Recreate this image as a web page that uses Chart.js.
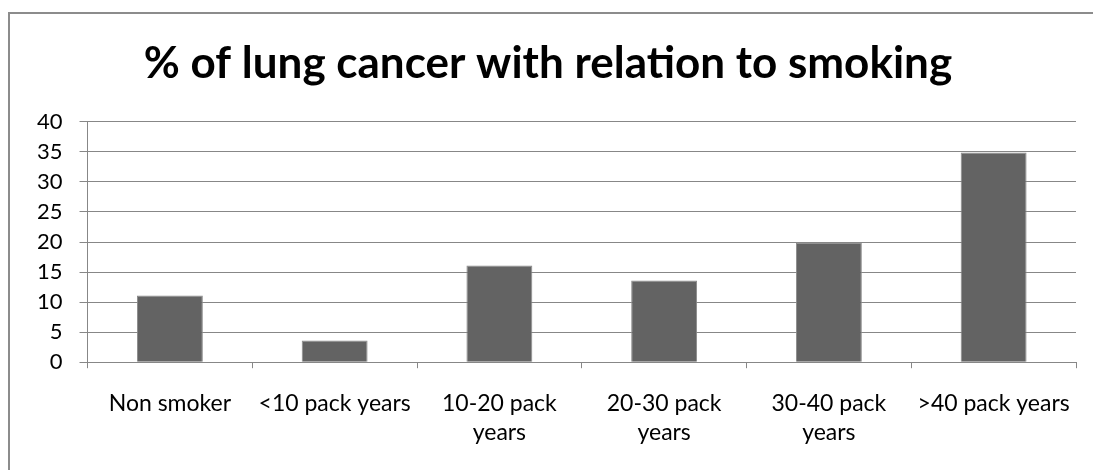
<!DOCTYPE html>
<html>
<head>
<meta charset="utf-8">
<script src="https://cdn.jsdelivr.net/npm/chart.js@4/dist/chart.umd.min.js"></script>
<style>
  html, body { margin: 0; padding: 0; background: #fff; overflow: hidden; }
  #wrap { position: relative; width: 1093px; height: 470px; }
  #frame { position: absolute; left: 8px; top: 12px; width: 1100px; height: 470px;
           border-left: 2px solid #8c8c8c; border-top: 2px solid #8c8c8c; }
  canvas { position: absolute; left: 0; top: 0; }
</style>
</head>
<body>
<div id="wrap">
  <div id="frame"></div>
  <canvas id="lungChart" width="1093" height="470"></canvas>
</div>
<script>
const categories = ['Non smoker', '<10 pack years', ['10-20 pack', 'years'], ['20-30 pack', 'years'], ['30-40 pack', 'years'], '>40 pack years'];
const lungCancerPct = [11.1, 3.6, 16.1, 13.6, 19.9, 34.9];
const yTicks = [0, 5, 10, 15, 20, 25, 30, 35, 40];

const ctx = document.getElementById('lungChart').getContext('2d');
const chart = new Chart(ctx, {
    type: 'bar',
    data: {
        labels: categories,
        datasets: [
            {
                label: '% of lung cancer',
                data: lungCancerPct,
                backgroundColor: '#636363',
                borderColor: '#8a8a8a',
                borderWidth: 1,
                barPercentage: 0.4,
                categoryPercentage: 1
            }
        ]
    },
    options: {
        responsive: false,
        animation: false,
        layout: {
            padding: { left: 20, right: 17, top: 0, bottom: 2 }
        },
        plugins: {
            legend: { display: false },
            tooltip: { enabled: false },
            title: {
                display: true,
                text: '% of lung cancer with relation to smoking',
                color: '#000',
                font: { family: 'Lato', size: 44, weight: 'bold' },
                padding: { top: 37, bottom: 32 }
            }
        },
        scales: {
            x: {
                grid: {
                    drawOnChartArea: false,
                    drawTicks: true,
                    tickLength: 6,
                    color: '#878787',
                    offset: true
                },
                border: { color: '#878787', width: 1 },
                ticks: {
                    color: '#000',
                    font: { family: 'Lato', size: 23, lineHeight: 1.3 },
                    padding: 20,
                    maxRotation: 0,
                    autoSkip: false
                }
            },
            y: {
                min: 0,
                max: 40,
                afterBuildTicks: axis => { axis.ticks = yTicks.map(v => ({ value: v })); },
                grid: {
                    color: '#878787',
                    lineWidth: 1,
                    tickLength: 8
                },
                border: { color: '#878787', width: 1 },
                ticks: {
                    color: '#000',
                    font: { family: 'Lato', size: 22 },
                    padding: 17
                }
            }
        }
    }
});
</script>
</body>
</html>
